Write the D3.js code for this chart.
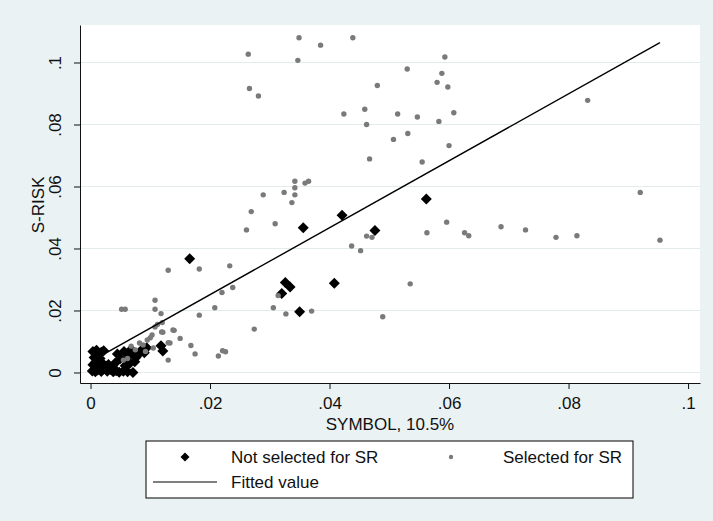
<!DOCTYPE html>
<html><head><meta charset="utf-8">
<script src="https://cdn.jsdelivr.net/npm/d3@7"></script>
<style>
body{margin:0;background:#eaf2f3;}
svg{display:block;}
text{font-family:"Liberation Sans",Arial,Helvetica,sans-serif;}
</style>
</head><body><svg id="c" width="713" height="521"></svg>
<script>
// ---------- data ----------
const xTicks = [0, 0.02, 0.04, 0.06, 0.08, 0.1];
const yTicks = [0, 0.02, 0.04, 0.06, 0.08, 0.1];
const tickLabels = ["0", ".02", ".04", ".06", ".08", ".1"];
const xTitle = "SYMBOL, 10.5%";
const yTitle = "S-RISK";
const legendLabels = ["Not selected for SR", "Selected for SR", "Fitted value"];

// Not selected for SR (black diamonds): [SYMBOL, S-RISK]
const notSelected = [
  [0.0003,0.0005],[0.0008,0.0002],[0.0012,0.0008],[0.0018,0.0003],[0.0022,0.0012],
  [0.0028,0.0004],[0.0033,0.0010],[0.0038,0.0002],[0.0043,0.0006],[0.0048,0.0001],
  [0.0055,0.0004],[0.0062,0.0002],[0.0071,0.0000],[0.0004,0.0025],[0.0009,0.0035],
  [0.0015,0.0022],[0.0020,0.0030],[0.0006,0.0048],[0.0011,0.0060],[0.0004,0.0068],
  [0.0010,0.0072],[0.0018,0.0065],[0.0022,0.0070],[0.0016,0.0045],[0.0026,0.0020],
  [0.0030,0.0026],[0.0036,0.0018],[0.0041,0.0030],[0.0045,0.0060],[0.0050,0.0045],
  [0.0056,0.0068],[0.0060,0.0040],[0.0065,0.0055],[0.0068,0.0074],[0.0072,0.0062],
  [0.0076,0.0048],[0.0080,0.0058],[0.0085,0.0072],[0.0090,0.0064],[0.0094,0.0080],
  [0.0058,0.0022],[0.0066,0.0030],[0.0074,0.0035],
  [0.0121,0.0069],[0.0118,0.0086],[0.0166,0.0367],[0.0356,0.0467],[0.0421,0.0507],
  [0.0476,0.0458],[0.0562,0.0560],[0.0326,0.0290],[0.0334,0.0276],[0.0320,0.0255],
  [0.0408,0.0288],[0.0350,0.0196]
];

// Selected for SR (grey dots): [SYMBOL, S-RISK]
const selected = [
  [0.0349,0.1080],[0.0439,0.1080],[0.0385,0.1056],[0.0264,0.1027],[0.0347,0.1007],
  [0.0593,0.1018],[0.0530,0.0979],[0.0588,0.0965],[0.0580,0.0936],[0.0598,0.0921],
  [0.0480,0.0926],[0.0266,0.0916],[0.0281,0.0892],[0.0832,0.0878],[0.0459,0.0849],
  [0.0424,0.0834],[0.0514,0.0834],[0.0547,0.0824],[0.0608,0.0838],[0.0583,0.0810],
  [0.0462,0.0800],[0.0531,0.0771],[0.0507,0.0752],[0.0600,0.0732],[0.0467,0.0689],
  [0.0555,0.0679],[0.0342,0.0617],[0.0365,0.0617],[0.0359,0.0611],[0.0342,0.0596],
  [0.0324,0.0581],[0.0289,0.0573],[0.0342,0.0573],[0.0337,0.0548],[0.0269,0.0519],
  [0.0920,0.0581],[0.0309,0.0480],[0.0261,0.0460],[0.0596,0.0485],[0.0563,0.0451],
  [0.0626,0.0451],[0.0633,0.0441],[0.0687,0.0470],[0.0728,0.0460],[0.0779,0.0436],
  [0.0814,0.0441],[0.0953,0.0427],[0.0462,0.0440],[0.0471,0.0436],[0.0437,0.0408],
  [0.0452,0.0393],[0.0535,0.0286],[0.0489,0.0180],[0.0370,0.0198],[0.0327,0.0189],
  [0.0306,0.0209],[0.0314,0.0248],[0.0274,0.0140],[0.0233,0.0344],[0.0238,0.0274],
  [0.0220,0.0258],[0.0208,0.0209],[0.0182,0.0334],[0.0130,0.0330],[0.0182,0.0185],
  [0.0214,0.0053],[0.0221,0.0070],[0.0226,0.0067],[0.0168,0.0087],[0.0175,0.0060],
  [0.0150,0.0110],[0.0140,0.0136],[0.0130,0.0040],[0.0130,0.0096],[0.0108,0.0233],
  [0.0108,0.0204],[0.0118,0.0190],[0.0052,0.0204],[0.0058,0.0204],[0.0112,0.0155],
  [0.0120,0.0161],[0.0119,0.0131],
  [0.0108,0.0147],[0.0121,0.0130],[0.0138,0.0137],[0.0133,0.0095],[0.0103,0.0121],
  [0.0088,0.0089],[0.0075,0.0073],[0.0105,0.0079],[0.0068,0.0085],[0.0082,0.0095],
  [0.0095,0.0105],[0.0100,0.0112],[0.0092,0.0068],[0.0062,0.0045],[0.0055,0.0040]
];

// Fitted value (linear fit)
const fitIntercept = 0.0035;
const fitSlope = 1.08;

// ---------- drawing ----------
const W = 713, H = 521;
const svg = d3.select("#c");
const plot = {left: 80, right: 700, top: 25, bottom: 383};
const textColor = "#111";

svg.append("rect").attr("width", W).attr("height", H).attr("fill", "#eaf2f3");
svg.append("rect")
  .attr("x", plot.left).attr("y", plot.top)
  .attr("width", plot.right - plot.left).attr("height", plot.bottom - plot.top)
  .attr("fill", "#ffffff");

const x = d3.scaleLinear().domain([-0.00176, 0.1020]).range([plot.left, plot.right]);
const y = d3.scaleLinear().domain([-0.00339, 0.1121]).range([plot.bottom, plot.top]);

// grid
svg.append("g").selectAll("line").data(yTicks).join("line")
  .attr("x1", plot.left).attr("x2", plot.right)
  .attr("y1", d => y(d)).attr("y2", d => y(d))
  .attr("stroke", "#e3ebed").attr("stroke-width", 1);

// not selected: diamonds
const r = 5.5;
svg.append("g").selectAll("path").data(notSelected).join("path")
  .attr("transform", d => `translate(${x(d[0])},${y(d[1])})`)
  .attr("d", `M0,${-r}L${r},0L0,${r}L${-r},0Z`)
  .attr("fill", "#000");

// selected: grey dots
svg.append("g").selectAll("circle").data(selected).join("circle")
  .attr("cx", d => x(d[0])).attr("cy", d => y(d[1])).attr("r", 2.7)
  .attr("fill", "#7a7a7a");

// fitted line
const allX = notSelected.concat(selected).map(d => d[0]);
const ext = d3.extent(allX);
const fitPts = ext.map(v => [v, fitIntercept + fitSlope * v]);
svg.append("path")
  .attr("d", d3.line().x(d => x(d[0])).y(d => y(d[1]))(fitPts))
  .attr("stroke", "#000").attr("stroke-width", 1.4).attr("fill", "none");

// axes
const fmt = (d) => tickLabels[xTicks.indexOf(d)];
const gx = svg.append("g").attr("transform", `translate(0,${plot.bottom})`)
  .call(d3.axisBottom(x).tickValues(xTicks).tickFormat(fmt).tickSize(6).tickSizeOuter(0));
gx.selectAll("path,line").attr("stroke", "#111");
gx.selectAll("text").attr("y", 14).attr("font-size", 17).attr("fill", textColor)
  .style("font-family", '"Liberation Sans",Arial,sans-serif');

const fmtY = (d) => tickLabels[yTicks.indexOf(d)];
const gy = svg.append("g").attr("transform", `translate(${plot.left},0)`)
  .call(d3.axisLeft(y).tickValues(yTicks).tickFormat(fmtY).tickSize(6).tickSizeOuter(0));
gy.selectAll("path,line").attr("stroke", "#111");
gy.selectAll("text")
  .attr("transform", "rotate(-90)")
  .attr("x", 0).attr("y", -19).attr("dy", 0)
  .attr("text-anchor", "middle")
  .attr("font-size", 17).attr("fill", textColor)
  .style("font-family", '"Liberation Sans",Arial,sans-serif');

// titles
svg.append("text").attr("x", (plot.left + plot.right) / 2).attr("y", 430)
  .attr("text-anchor", "middle").attr("font-size", 17).attr("fill", textColor)
  .text(xTitle);
svg.append("text").attr("transform", "translate(44,205) rotate(-90)")
  .attr("text-anchor", "middle").attr("font-size", 17).attr("fill", textColor)
  .text(yTitle);

// legend
const lg = svg.append("g");
lg.append("rect").attr("x", 146).attr("y", 441).attr("width", 487).attr("height", 57)
  .attr("fill", "#fff").attr("stroke", "#000").attr("stroke-width", 1);
const lr = 4.5;
lg.append("path").attr("transform", "translate(185,457)")
  .attr("d", `M0,${-lr}L${lr},0L0,${lr}L${-lr},0Z`).attr("fill", "#000");
lg.append("text").attr("x", 231).attr("y", 463).attr("font-size", 17).attr("fill", textColor)
  .text(legendLabels[0]);
lg.append("circle").attr("cx", 451).attr("cy", 457).attr("r", 2.2).attr("fill", "#7a7a7a");
lg.append("text").attr("x", 622).attr("y", 463).attr("text-anchor", "end")
  .attr("font-size", 17).attr("fill", textColor).text(legendLabels[1]);
lg.append("line").attr("x1", 153).attr("x2", 217).attr("y1", 482).attr("y2", 482)
  .attr("stroke", "#000").attr("stroke-width", 1);
lg.append("text").attr("x", 231).attr("y", 488).attr("font-size", 17).attr("fill", textColor)
  .text(legendLabels[2]);
</script>
</body></html>
